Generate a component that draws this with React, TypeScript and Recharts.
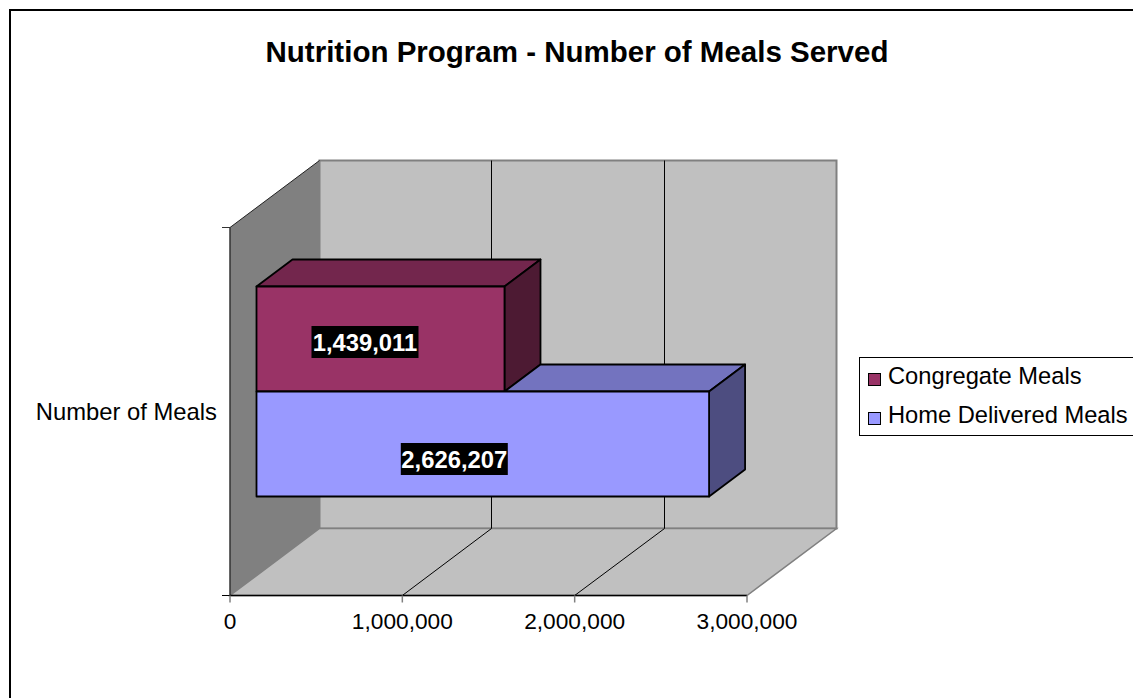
import { BarChart, Bar, XAxis, YAxis, CartesianGrid, Legend, LabelList } from "recharts";

const categories = ["Number of Meals"];
const congregateMeals = [1439011];
const homeDeliveredMeals = [2626207];
const xTicks = [0, 1000000, 2000000, 3000000];

const chartData = categories.map((name, i) => ({
  name,
  congregate: congregateMeals[i],
  home: homeDeliveredMeals[i],
}));

const FONT = '"Liberation Sans", Arial, sans-serif';
const WIDTH = 1133;
const HEIGHT = 698;

// plot rectangle is the front plane of the 3D box
const LEFT = 230;
const RIGHT = 747;
const TOP = 227.5;
const BOTTOM = 595.5;

// how far the back wall sits behind the front plane
const WALL_DX = 89.5;
const WALL_DY = -67;
// bars float in the middle of that depth
const BAR_DX = 26.5;
const BAR_DY = -20;
const BOX_DX = 36;
const BOX_DY = -27;

const fmt = (v: number) => v.toLocaleString("en-US");
const pts = (list: number[][]) => list.map((p) => p.join(",")).join(" ");

// title, walls and floor sit in their own svg under the transparent chart
const Backdrop = () => (
  <svg width={WIDTH} height={HEIGHT} style={{ position: "absolute", left: 0, top: 0 }}>
    <text x={577} y={62} textAnchor="middle" fontFamily={FONT} fontWeight="bold" fontSize={29.5} fill="#000">
      Nutrition Program - Number of Meals Served
    </text>
    <polygon
      points={pts([[LEFT + WALL_DX, TOP + WALL_DY], [RIGHT + WALL_DX, TOP + WALL_DY], [RIGHT + WALL_DX, BOTTOM + WALL_DY], [LEFT + WALL_DX, BOTTOM + WALL_DY]])}
      fill="#c0c0c0"
      stroke="#808080"
      strokeWidth={2}
    />
    <polygon
      points={pts([[LEFT, BOTTOM], [RIGHT, BOTTOM], [RIGHT + WALL_DX, BOTTOM + WALL_DY], [LEFT + WALL_DX, BOTTOM + WALL_DY]])}
      fill="#c0c0c0"
      stroke="#808080"
      strokeWidth={1.5}
    />
    <polygon
      points={pts([[LEFT, TOP], [LEFT + WALL_DX, TOP + WALL_DY], [LEFT + WALL_DX, BOTTOM + WALL_DY], [LEFT, BOTTOM]])}
      fill="#808080"
    />
    <line x1={LEFT} y1={TOP} x2={LEFT + WALL_DX} y2={TOP + WALL_DY} stroke="#222" strokeWidth={1} />
    <line x1={LEFT} y1={TOP} x2={LEFT} y2={BOTTOM} stroke="#333" strokeWidth={1.5} />
    <line x1={222} y1={TOP} x2={LEFT} y2={TOP} stroke="#333" strokeWidth={1} />
    <line x1={222} y1={BOTTOM} x2={LEFT} y2={BOTTOM} stroke="#000" strokeWidth={1} />
  </svg>
);

// floor line plus wall line for each inner tick
const DepthGridLine = (props: any) => {
  const { x1, y1, y2 } = props;
  if (x1 <= LEFT + 1 || x1 >= RIGHT - 1) return null;
  // snap the upright part to a pixel so it stays crisp
  const backX = Math.floor(x1 + WALL_DX) + 0.5;
  return (
    <polyline
      points={pts([[x1, y2], [backX, y2 + WALL_DY], [backX, y1 + WALL_DY]])}
      fill="none"
      stroke="#000"
      strokeWidth={1}
    />
  );
};

const shade = (hex: string, k: number) => {
  const n = parseInt(hex.slice(1), 16);
  const c = [(n >> 16) & 255, (n >> 8) & 255, n & 255].map((v) => Math.round(v * k));
  return `rgb(${c.join(",")})`;
};

const Box3D = (props: any) => {
  const { x, y, width, height, fill, payload, hideUnder } = props;
  const fx = x + BAR_DX;
  const fy = y + BAR_DY;
  // the upper bar sits on this one, so its top face starts where that bar ends
  const topStart = hideUnder ? fx + (width * payload[hideUnder]) / payload.home : fx;
  const r = fx + width;
  const b = fy + height;
  return (
    <g stroke="#000" strokeWidth={1.8} strokeLinejoin="round">
      <polygon
        points={pts([[topStart, fy], [topStart + BOX_DX, fy + BOX_DY], [r + BOX_DX, fy + BOX_DY], [r, fy]])}
        fill={shade(fill, 0.75)}
      />
      <polygon
        points={pts([[r, fy], [r + BOX_DX, fy + BOX_DY], [r + BOX_DX, b + BOX_DY], [r, b]])}
        fill={shade(fill, 0.5)}
      />
      <rect x={fx} y={fy} width={width} height={height} fill={fill} />
    </g>
  );
};

const valueLabel = (dx: number, dy: number) => (props: any) => {
  const { x, y, width, height, value } = props;
  const cx = x + BAR_DX + width / 2 + dx;
  const cy = y + BAR_DY + height / 2 + dy;
  return (
    <g>
      <rect x={cx - 53.5} y={cy - 16} width={107} height={32} fill="#000" />
      <text x={cx} y={cy + 8.5} textAnchor="middle" fontFamily={FONT} fontWeight="bold" fontSize={23.8} fill="#fff">
        {fmt(value)}
      </text>
    </g>
  );
};

const LegendBox = ({ payload }: any) => (
  <div
    style={{
      border: "1px solid #000",
      background: "#fff",
      width: 320,
      height: 77,
      boxSizing: "content-box",
      fontFamily: FONT,
      fontSize: 23.7,
      position: "relative",
    }}
  >
    {(payload || []).map((item: any, i: number) => (
      <div key={item.value} style={{ position: "absolute", left: 8, top: 2 + i * 39, height: 33, display: "flex", alignItems: "center", whiteSpace: "nowrap" }}>
        <span style={{ width: 11, height: 11, border: "1.5px solid #000", background: item.color, marginRight: 7, marginTop: 6 }} />
        {item.value}
      </div>
    ))}
  </div>
);

export default function App() {
  return (
    <div style={{ position: "absolute", left: 0, top: 0, width: WIDTH, height: HEIGHT, overflow: "hidden", background: "#fff" }}>
      <div style={{ position: "absolute", left: 9, top: 9, width: 1300, height: 900, border: "2px solid #000" }} />
      <Backdrop />
      <BarChart
        width={WIDTH}
        height={HEIGHT}
        data={chartData}
        layout="vertical"
        barSize={105}
        barGap={0}
        margin={{ top: TOP, right: WIDTH - RIGHT, bottom: HEIGHT - BOTTOM - 50, left: 10 }}
        style={{ position: "absolute", left: 0, top: 0 }}
      >
        <CartesianGrid horizontal={false} vertical={DepthGridLine} />
        <XAxis
          type="number"
          domain={[0, 3000000]}
          ticks={xTicks}
          interval={0}
          height={50}
          tickFormatter={fmt}
          axisLine={{ stroke: "#000", strokeWidth: 1.5 }}
          tickLine={{ stroke: "#808080", strokeWidth: 1.5 }}
          tickSize={7}
          tickMargin={10}
          tick={{ fontFamily: FONT, fontSize: 22.7, fill: "#000" }}
        />
        <YAxis
          type="category"
          dataKey="name"
          width={220}
          axisLine={false}
          tickLine={false}
          tickSize={0}
          tickMargin={13}
          tick={{ fontFamily: FONT, fontSize: 23.8, fill: "#000" }}
        />
        <Legend
          layout="vertical"
          align="center"
          verticalAlign="middle"
          wrapperStyle={{ position: "absolute", left: 859, top: 357, width: 322, height: 79 }}
          content={<LegendBox />}
        />
        <Bar dataKey="congregate" name="Congregate Meals" fill="#993366" isAnimationActive={false} shape={<Box3D />}>
          <LabelList dataKey="congregate" content={valueLabel(-15.5, 3)} />
        </Bar>
        <Bar dataKey="home" name="Home Delivered Meals" fill="#9999ff" isAnimationActive={false} shape={<Box3D hideUnder="congregate" />}>
          <LabelList dataKey="home" content={valueLabel(-28.5, 15)} />
        </Bar>
      </BarChart>
    </div>
  );
}
